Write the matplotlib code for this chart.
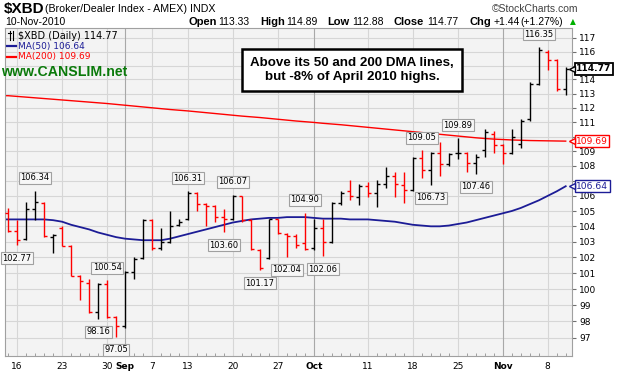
import numpy as np
import matplotlib.pyplot as plt
from matplotlib.lines import Line2D

# $XBD daily bars, 13-Aug-2010 .. 10-Nov-2010 (63 trading days)
opens = [104.9, 103.7, 103.2, 105.1, 105.5, 103.3, 103.9, 102.7, 100.8, 100.4,
         98.6, 100.3, 98.25, 97.7, 101.1, 101.95, 104.4, 102.6, 103.0, 104.1,
         104.5, 106.2, 105.45, 105.3, 104.6, 104.45, 106.0, 104.4, 102.5, 101.95,
         104.45, 103.5, 103.4, 102.9, 102.6, 103.9, 103.0, 105.5, 106.3, 105.9,
         106.65, 106.2, 106.8, 107.3, 106.7, 106.4, 108.55, 107.7, 108.9, 108.1,
         108.85, 108.9, 108.2, 109.1, 110.2, 109.4, 108.9, 109.5, 111.2, 113.7,
         116.0, 115.4, 113.33]
highs = [105.2, 104.4, 105.6, 106.34, 105.6, 103.5, 104.0, 102.8, 100.9, 100.6,
         100.4, 100.54, 98.3, 101.15, 102.0, 104.5, 104.5, 103.9, 105.0, 104.5,
         106.31, 106.25, 105.5, 105.4, 105.1, 106.07, 106.0, 104.45, 102.55, 104.5,
         104.5, 103.55, 103.5, 104.90, 104.5, 104.45, 105.6, 106.3, 107.07, 106.8,
         106.9, 107.07, 107.9, 107.6, 107.6, 108.6, 109.05, 108.95, 109.6, 108.9,
         109.89, 108.95, 108.8, 110.5, 110.4, 109.5, 110.5, 111.2, 113.8, 116.35,
         116.1, 115.45, 114.89]
lows = [103.6, 102.77, 103.1, 104.4, 103.3, 102.3, 102.7, 100.8, 99.3, 98.5,
        98.16, 98.2, 97.05, 97.6, 100.6, 101.9, 102.5, 102.5, 102.9, 104.0,
        104.4, 105.0, 104.0, 104.3, 103.60, 104.4, 104.3, 102.5, 101.17, 101.9,
        103.5, 102.04, 102.6, 102.5, 102.5, 102.06, 102.9, 105.4, 105.7, 105.4,
        105.9, 105.25, 106.5, 105.9, 105.5, 106.35, 107.2, 106.73, 107.3, 108.0,
        108.5, 107.6, 107.46, 108.6, 108.9, 108.1, 108.8, 109.2, 111.1, 113.6,
        114.7, 113.2, 112.88]
closes = [103.7, 103.1, 105.1, 105.6, 103.4, 103.45, 102.75, 100.85, 100.5, 98.6,
          100.3, 98.25, 97.7, 101.1, 101.9, 104.4, 102.6, 103.0, 104.0, 104.3,
          106.2, 105.45, 105.3, 104.6, 104.45, 106.0, 104.4, 102.55, 101.3, 104.45,
          103.55, 103.4, 102.8, 102.55, 103.9, 103.0, 105.5, 106.2, 106.0, 106.65,
          106.2, 106.8, 107.3, 106.8, 106.4, 108.55, 107.7, 108.9, 108.1, 108.8,
          108.9, 108.2, 108.6, 110.3, 109.4, 108.9, 110.0, 111.1, 113.7, 116.1,
          115.4, 113.33, 114.77]
prev_close = 104.5

ma50 = [104.45, 104.45, 104.45, 104.45, 104.45, 104.4, 104.3, 104.1, 103.95, 103.8,
        103.6, 103.45, 103.3, 103.2, 103.15, 103.1, 103.1, 103.1, 103.2, 103.35,
        103.5, 103.65, 103.8, 103.95, 104.1, 104.25, 104.35, 104.45, 104.5, 104.55,
        104.55, 104.6, 104.6, 104.6, 104.55, 104.5, 104.5, 104.5, 104.45, 104.45,
        104.45, 104.4, 104.35, 104.3, 104.2, 104.1, 104.05, 104.0, 104.0, 104.05,
        104.15, 104.25, 104.4, 104.55, 104.7, 104.85, 105.0, 105.2, 105.45, 105.7,
        106.0, 106.3, 106.64]
ma200 = [112.85, 112.8, 112.75, 112.7, 112.65, 112.6, 112.55, 112.5, 112.45, 112.4,
         112.35, 112.3, 112.24, 112.18, 112.12, 112.06, 112.0, 111.94, 111.88, 111.83,
         111.78, 111.72, 111.66, 111.6, 111.54, 111.48, 111.42, 111.37, 111.32, 111.26,
         111.2, 111.14, 111.08, 111.03, 110.98, 110.92, 110.87, 110.82, 110.76, 110.7,
         110.64, 110.58, 110.52, 110.46, 110.4, 110.34, 110.28, 110.22, 110.16, 110.1,
         110.04, 109.98, 109.92, 109.87, 109.83, 109.8, 109.77, 109.75, 109.73, 109.72,
         109.71, 109.7, 109.69]

tick_idx = [1, 6, 11, 13, 16, 20, 25, 30, 34, 40, 45, 50, 55, 60]
tick_labels = ['16', '23', '30', 'Sep', '7', '13', '20', '27', 'Oct', '11', '18', '25', 'Nov', '8']
month_labels = ['Sep', 'Oct', 'Nov']
price_ticks = list(range(97, 118))
hidden_price_labels = [107, 110, 115]   # covered by the value tags

high_note_idx = [3, 11, 20, 25, 33, 46, 50, 59]
low_note_idx = [1, 10, 12, 24, 28, 31, 35, 47, 52]

W, H = 620, 375


def px(x, y):
    return x / W, 1 - y / H


fig = plt.figure(figsize=(6.2, 3.75), dpi=100)
fig.patch.set_facecolor('white')
ax = fig.add_axes([5 / W, 19 / H, 567 / W, 328 / H])
ax.set_yscale('log')
ax.set_ylim(95.9, 117.73)
ax.set_xlim(-0.35, 62.7)
ax.set_facecolor('#f3f3f3')

for p in price_ticks:
    ax.axhline(p, color='#d6d6d6', lw=0.8, zorder=0)
for i, lab in zip(tick_idx, tick_labels):
    c = '#a8a8a8' if lab in month_labels else '#d6d6d6'
    ax.axvline(i, color=c, lw=0.8, zorder=0)

x = np.arange(len(closes))
prev = [prev_close] + closes[:-1]
colors = ['black' if c >= p else '#ff0000' for c, p in zip(closes, prev)]
ax.vlines(x, lows, highs, colors=colors, lw=1.0, zorder=3)
ax.hlines(opens, x - 0.33, x, colors=colors, lw=1.0, zorder=3)
ax.hlines(closes, x, x + 0.33, colors=colors, lw=1.0, zorder=3)

ax.plot(np.r_[-0.35, x], [ma200[0]] + ma200, color='#ff0000', lw=1.0, zorder=2)
ax.plot(np.r_[-0.35, x], [ma50[0]] + ma50, color='#1c1c96', lw=1.3, zorder=2)

box = dict(boxstyle='square,pad=0.18', fc='#f7f7f7', ec='#a0a0a0', lw=0.8)
for i in high_note_idx:
    ax.annotate(f'{highs[i]:.2f}', xy=(i, highs[i]), xytext=(0, 6), textcoords='offset points',
                ha='center', va='bottom', fontsize=6, bbox=box, zorder=6)
for i in low_note_idx:
    ax.annotate(f'{lows[i]:.2f}', xy=(i, lows[i]), xytext=(0, -6), textcoords='offset points',
                ha='center', va='top', fontsize=6, bbox=box, zorder=6)

# axes / ticks
ax.yaxis.tick_right()
ax.set_yticks(price_ticks)
ax.set_yticklabels(['' if p in hidden_price_labels else str(p) for p in price_ticks])
ax.yaxis.set_minor_locator(plt.NullLocator())
ax.tick_params(axis='y', which='major', direction='out', length=3, pad=2, labelsize=6.5,
               color='#707070')
ax.set_xticks(tick_idx)
ax.set_xticklabels(tick_labels)
for t, lab in zip(ax.get_xticklabels(), tick_labels):
    if lab in month_labels:
        t.set_fontweight('bold')
        t.set_fontsize(7.5)
ax.set_xticks(x, minor=True)
ax.tick_params(axis='x', which='major', direction='in', length=0, pad=4, labelsize=6.5)
ax.tick_params(axis='x', which='minor', direction='in', length=2, color='#909090')
for s in ax.spines.values():
    s.set_color('#a0a0a0')

# value tags on the right
ytr = ax.get_yaxis_transform()
for val, col, bold in [(closes[-1], 'black', True), (ma200[-1], '#ff0000', False), (ma50[-1], '#1c1c96', False)]:
    ax.annotate(f'{val:.2f}', xy=(1.0, val), xycoords=ytr, xytext=(3, 0), textcoords='offset points',
                ha='left', va='center', fontsize=6.6, color='black' if bold else col,
                fontweight='bold' if bold else 'normal',
                bbox=dict(boxstyle='square,pad=0.15', fc='white', ec=col, lw=1.0 if not bold else 1.3),
                annotation_clip=False, zorder=8)
    ax.plot([1.0], [val], marker='<', ms=5, mfc='white', mec=col, mew=1.0, transform=ytr,
            clip_on=False, zorder=9)

# legend inside plot
fig.text(*px(18, 36), '$XBD (Daily) 114.77', fontsize=7, va='center', family='DejaVu Sans')
fig.add_artist(Line2D([8 / W, 11 / W], [1 - 33 / H, 1 - 33 / H], color='black', lw=0.8))
fig.add_artist(Line2D([10 / W, 10 / W], [1 - 31 / H, 1 - 40 / H], color='black', lw=0.8))
fig.add_artist(Line2D([13 / W, 13 / W], [1 - 31 / H, 1 - 40 / H], color='black', lw=0.8))
fig.add_artist(Line2D([7 / W, 16 / W], [1 - 46 / H, 1 - 46 / H], color='#1c1c96', lw=1.6))
fig.text(*px(18, 46), f'MA(50) {ma50[-1]:.2f}', fontsize=6.5, va='center', color='#1c1c96')
fig.add_artist(Line2D([7 / W, 16 / W], [1 - 57 / H, 1 - 57 / H], color='#ff0000', lw=1.6))
fig.text(*px(18, 57), f'MA(200) {ma200[-1]:.2f}', fontsize=6.5, va='center', color='#ff0000')
fig.text(*px(1, 72), 'www.CANSLIM.net', fontsize=10.2, fontweight='bold', color='#0a7a0a',
         va='center', family='Liberation Sans')

ax.text(0.612, 0.872, 'Above its 50 and 200 DMA lines,\nbut -8% of April 2010 highs.',
        transform=ax.transAxes, ha='center', va='center', fontsize=9.6, fontweight='bold',
        family='Liberation Sans', linespacing=1.3,
        bbox=dict(boxstyle='square,pad=0.6', fc='white', ec='black', lw=1.8), zorder=10)

# header
fig.text(*px(4, 9), '$XBD', fontsize=11, fontweight='bold', va='center', family='Liberation Sans')
fig.text(*px(45, 9), '(Broker/Dealer Index - AMEX) INDX', fontsize=7.7, va='center',
         family='Liberation Sans')
fig.text(*px(578, 9), '\u00a9StockCharts.com', fontsize=7.5, va='center', ha='right',
         color='#404040', family='Liberation Sans')
fig.text(*px(5, 22), '10-Nov-2010', fontsize=7.5, va='center', family='Liberation Sans')
parts = [(189, 'Open', True), (218, '113.33', False), (260, 'High', True), (286, '114.89', False),
         (327, 'Low', True), (352, '112.88', False), (394, 'Close', True), (427, '114.77', False),
         (469, 'Chg', True), (494, '+1.44', False), (520, '(+1.27%)', False)]
for xp, s, b in parts:
    fig.text(*px(xp, 22), s, fontsize=8 if b else 7.5, fontweight='bold' if b else 'normal',
             va='center', family='Liberation Sans')
fig.text(*px(570, 22), '\u25b2', fontsize=5.5, color='#00b000', va='center')

fig.savefig('out.png', dpi=100)
